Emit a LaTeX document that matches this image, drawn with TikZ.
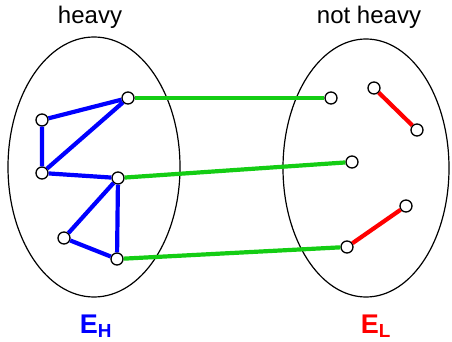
\documentclass[tikz,border=0pt]{standalone}
\usepackage{fontspec}
\setmainfont{Liberation Sans}
\definecolor{edgegreen}{RGB}{20,205,20}
\begin{document}
\begin{tikzpicture}[x=1pt,y=-1pt,
  vtx/.style={circle,draw,fill=white,line width=1.3pt,inner sep=0pt,minimum size=12pt},
  heavyedge/.style={blue,line width=4.2pt},
  lightedge/.style={red,line width=4.2pt},
  crossedge/.style={edgegreen,line width=4.2pt},
  setlabel/.style={font=\fontsize{24}{28}\selectfont},
  setname/.style={font=\fontsize{27}{30}\selectfont\bfseries}]
\useasboundingbox (0,0) rectangle (452,342);
% the two sets
\draw[line width=1.2pt] (94,167) ellipse [x radius=86, y radius=130];
\draw[line width=1.2pt] (366,168) ellipse [x radius=83, y radius=129];
\node[setlabel] (heavy) at (90,17) {heavy};
\node[setlabel] (notheavy) at (369,17) {not heavy};
\node[setname,blue] (eh) at (96,326) {E\textsubscript{H}};
\node[setname,red] (el) at (376,326) {E\textsubscript{L}};
% vertices
\node[vtx] (a) at (128,98) {};
\node[vtx] (b) at (42,120) {};
\node[vtx] (c) at (42,173) {};
\node[vtx] (d) at (118,178) {};
\node[vtx] (e) at (64,238) {};
\node[vtx] (f) at (117,259) {};
\node[vtx] (g) at (331,98) {};
\node[vtx] (h) at (374,88) {};
\node[vtx] (i) at (417,130) {};
\node[vtx] (j) at (352,162) {};
\node[vtx] (k) at (406,206) {};
\node[vtx] (l) at (347,247) {};
% edges
\draw[heavyedge] (a) -- (b) -- (c) -- (a);
\draw[heavyedge] (c) -- (d) -- (e) -- (f) -- (d);
\draw[crossedge] (a) -- (g);
\draw[crossedge] (d) -- (j);
\draw[crossedge] (f) -- (l);
\draw[lightedge] (h) -- (i);
\draw[lightedge] (k) -- (l);
\end{tikzpicture}
\end{document}
